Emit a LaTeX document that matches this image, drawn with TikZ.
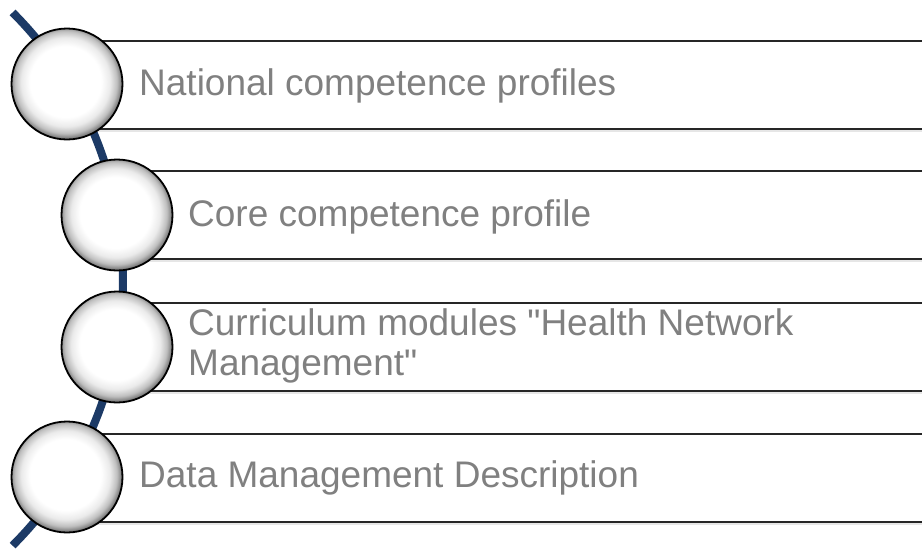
\documentclass[tikz,border=0pt]{standalone}
\usepackage{fontspec}
\setmainfont{Liberation Sans}
\usetikzlibrary{calc,shadows}

\definecolor{spineblue}{RGB}{28,58,102}
\definecolor{labelgray}{RGB}{128,128,128}
\pgfdeclareradialshading{bead}{\pgfpoint{-1bp}{1.5bp}}{color(0bp)=(white); color(16bp)=(white); color(20bp)=(black!8); color(23bp)=(black!25); color(25bp)=(black!50); color(50bp)=(black!50)}

\begin{document}
\begin{tikzpicture}[x=1pt,y=-1pt]
\tikzset{spine/.style={line width=8pt,color=spineblue}};
\tikzset{bar/.style={draw=black!85,line width=2pt,fill=white,anchor=west,inner sep=0pt,minimum width=900pt,minimum height=88pt,drop shadow={shadow xshift=0pt,shadow yshift=-3pt,opacity=.2}}};
\tikzset{bead/.style={circle,draw=black,line width=1.8pt,shade,shading=bead,minimum size=111pt,inner sep=0pt}};
\tikzset{lbl/.style={anchor=west,inner sep=0pt,text=labelgray,font=\fontsize{37}{40}\selectfont,align=left}};

\pgfmathsetmacro{\rarc}{377};

\useasboundingbox (0,0) rectangle (922,550);
\clip (0,0) rectangle (922,550);

\coordinate (hub) at (-254,279);
\coordinate (A) at (67,84);
\coordinate (B) at (117,215);
\coordinate (C) at (117,347);
\coordinate (D) at (67,477);

\draw [spine] ($ (hub)+(-45:\rarc) $) arc[start angle=-45,end angle=45,radius=\rarc];

\node [bar] (bar1) at ($ (A)+(0,1) $) {};
\node [bar] (bar2) at (B) {};
\node [bar] (bar3) at (C) {};
\node [bar] (bar4) at ($ (D)+(0,1) $) {};

\node [bead] (bead1) at (A) {};
\node [bead] (bead2) at (B) {};
\node [bead] (bead3) at (C) {};
\node [bead] (bead4) at (D) {};

\node [lbl] (lbl1) at (139,86) {National competence profiles};
\node [lbl] (lbl2) at (188,217) {Core competence profile};
\node [lbl] (lbl3) at (188,346) {Curriculum modules \textquotedbl Health Network\\Management\textquotedbl};
\node [lbl] (lbl4) at (139,478) {Data Management Description};
\end{tikzpicture}
\end{document}
